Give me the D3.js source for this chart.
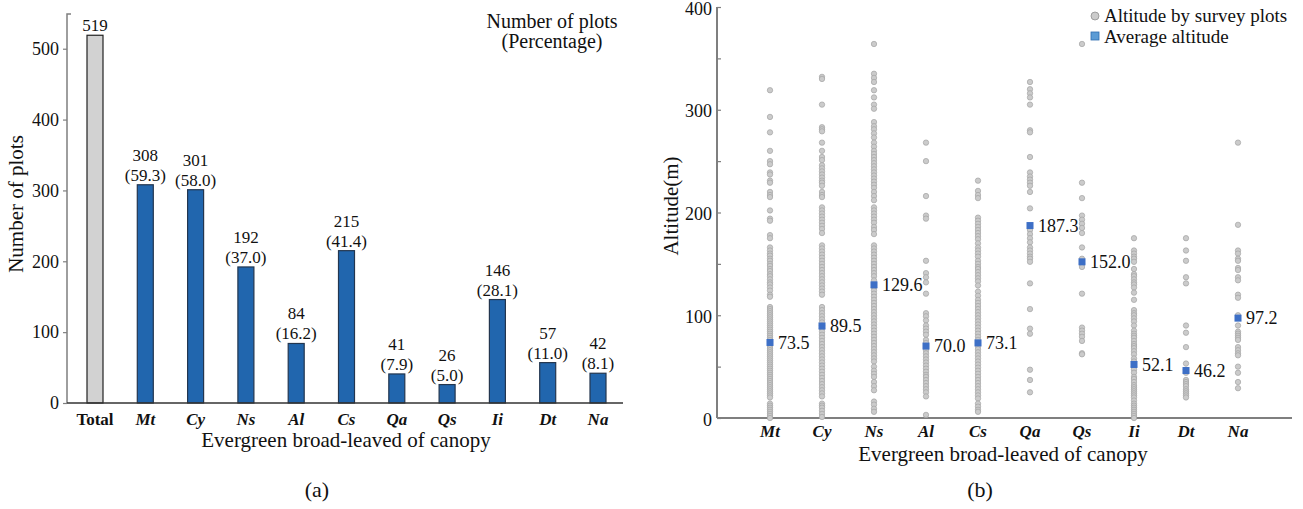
<!DOCTYPE html>
<html>
<head>
<meta charset="utf-8">
<script src="https://cdn.jsdelivr.net/npm/d3@7"></script>
<style>
  body { margin: 0; background: #fff; }
  text { font-family: "Liberation Serif", "Times New Roman", serif; fill: #111; }
</style>
</head>
<body>
<svg id="chart" width="1303" height="509"></svg>
<script>
// ---- data: panel (a) ----
const barCats = ["Total", "Mt", "Cy", "Ns", "Al", "Cs", "Qa", "Qs", "Ii", "Dt", "Na"];
const barCounts = [519, 308, 301, 192, 84, 215, 41, 26, 146, 57, 42];
const barPercents = [null, "59.3", "58.0", "37.0", "16.2", "41.4", "7.9", "5.0", "28.1", "11.0", "8.1"];
const barTicks = [0, 100, 200, 300, 400, 500];

// ---- data: panel (b) ----
const speciesCats = ["Mt", "Cy", "Ns", "Al", "Cs", "Qa", "Qs", "Ii", "Dt", "Na"];
const meanAltitude = [73.5, 89.5, 129.6, 70.0, 73.1, 187.3, 152.0, 52.1, 46.2, 97.2];
const altMt = [319, 293, 278, 260, 250, 247, 239, 237, 231, 229, 220, 217, 215, 202, 194, 192, 178, 175,
  166, 163, 160, 158, 155, 153, 150, 148, 145, 143, 140, 138, 135, 132, 130, 127, 124, 120, 118,
  108, 106, 104, 102, 100, 98, 96, 94, 92, 90, 88, 86, 84, 82, 80, 78, 76, 74, 72, 70, 68, 66, 64,
  62, 60, 58, 56, 54, 52, 50, 48, 46, 44, 42, 40, 38, 36, 34, 32, 30, 28, 26, 24, 22, 20,
  14, 12, 10, 8, 6, 4, 2, 0];
const altCy = [332, 330, 305, 283, 281, 279, 268, 260, 254, 251, 246, 243, 240, 237, 234, 231, 229, 226,
  220, 217, 215, 205, 202, 199, 196, 193, 190, 187, 184, 180, 168, 165, 162, 159, 156, 153, 150, 147,
  144, 141, 138, 135, 132, 129, 126, 123, 120, 108, 105, 102, 99, 96, 93, 90, 87, 84, 81, 78, 75, 72,
  69, 66, 63, 60, 57, 54, 51, 48, 45, 42, 39, 36, 33, 30, 27, 24, 21, 14, 12, 10, 7, 4, 1];
const altNs = [364, 335, 331, 327, 319, 312, 305, 301, 288, 284, 281, 277, 273, 268, 264, 260, 257, 254,
  251, 248, 245, 242, 239, 236, 233, 230, 227, 224, 220, 216, 212, 205, 202, 199, 196, 193, 190, 186,
  183, 179, 168, 165, 162, 159, 156, 153, 150, 147, 144, 141, 138, 134, 127, 124, 121, 118, 115, 112,
  109, 106, 103, 100, 97, 94, 91, 88, 85, 82, 79, 76, 73, 70, 67, 64, 61, 58, 55, 50, 46, 43, 40,
  35, 31, 27, 16, 13, 9, 6];
const altAl = [268, 250, 216, 197, 194, 153, 141, 137, 132, 121, 102, 99, 95, 90, 87, 84, 81, 76, 73, 66,
  63, 60, 57, 54, 51, 48, 45, 42, 40, 37, 34, 31, 28, 25, 21, 3];
const altCs = [231, 221, 217, 214, 195, 192, 189, 186, 183, 180, 177, 174, 170, 166, 163, 160, 157, 153,
  150, 147, 145, 142, 139, 136, 133, 129, 123, 119, 115, 112, 109, 106, 103, 100, 97, 94, 91, 88, 85,
  82, 79, 76, 73, 70, 67, 64, 61, 58, 55, 52, 49, 46, 43, 40, 37, 34, 31, 28, 25, 22, 19, 14, 11, 8, 6];
const altQa = [327, 320, 316, 312, 305, 280, 278, 254, 239, 235, 232, 229, 226, 220, 204, 183, 179, 175,
  171, 166, 163, 160, 157, 155, 152, 131, 106, 87, 82, 47, 37, 25];
const altQs = [364, 229, 214, 197, 193, 189, 185, 180, 166, 155, 150, 147, 121, 88, 85, 82, 79, 75, 63, 62];
const altIi = [175, 163, 160, 157, 155, 152, 145, 140, 138, 135, 132, 130, 127, 122, 115, 105, 102, 100,
  97, 94, 90, 85, 82, 80, 78, 75, 72, 70, 68, 65, 62, 58, 55, 50, 47, 44, 40, 38, 35, 32, 30, 28, 26,
  24, 22, 20, 17, 14, 12, 10, 8, 6, 4, 2, 0];
const altDt = [175, 163, 153, 137, 131, 90, 83, 69, 53, 47, 44, 37, 35, 33, 31, 28, 26, 24, 22, 20];
const altNa = [268, 188, 163, 160, 155, 153, 146, 144, 137, 134, 120, 117, 100, 90, 84, 82, 80, 78, 76,
  69, 66, 63, 61, 50, 44, 35, 29];
const altitudes = [altMt, altCy, altNs, altAl, altCs, altQa, altQs, altIi, altDt, altNa];
const altTicks = [0, 50, 100, 150, 200, 250, 300, 350, 400];

const svg = d3.select("#chart");
const serif = '"Liberation Serif", "Times New Roman", serif';

// ================= panel (a) =================
const xA = d3.scalePoint().domain(barCats).range([95, 598]);
const yA = d3.scaleLinear().domain([0, 549]).range([403, 14]);
const barW = 16;

const gA = svg.append("g");

gA.append("g")
    .attr("transform", "translate(67,0)")
    .call(d3.axisLeft(yA).tickValues(barTicks).tickSize(4).tickPadding(4).tickSizeOuter(0))
    .call(g => g.select(".domain").attr("stroke", "#7f7f7f").attr("stroke-width", 1.5)
        .attr("d", `M0,${yA(0)}V${yA(549)}H4`))
    .call(g => g.selectAll(".tick line").attr("stroke", "#7f7f7f").attr("stroke-width", 1.2))
    .call(g => g.selectAll(".tick text").style("font-family", serif).style("font-size", "18px").attr("fill", "#111"));

gA.selectAll("rect.bar")
    .data(barCats)
    .join("rect")
    .attr("class", "bar")
    .attr("x", d => xA(d) - barW / 2)
    .attr("y", (d, i) => yA(barCounts[i]))
    .attr("width", barW)
    .attr("height", (d, i) => yA(0) - yA(barCounts[i]))
    .attr("fill", (d, i) => i === 0 ? "#d2d2d2" : "#2166ae")
    .attr("stroke", (d, i) => i === 0 ? "#222" : "#23364f")
    .attr("stroke-width", 1.2);

// x axis line
gA.append("line")
    .attr("x1", 67).attr("x2", 623)
    .attr("y1", yA(0)).attr("y2", yA(0))
    .attr("stroke", "#333").attr("stroke-width", 1.5);

// value labels
gA.selectAll("text.cnt")
    .data(barCats)
    .join("text")
    .attr("class", "cnt")
    .attr("x", d => xA(d))
    .attr("y", (d, i) => yA(barCounts[i]) - (barPercents[i] ? 24 : 4))
    .attr("text-anchor", "middle")
    .style("font-size", "17px")
    .text((d, i) => barCounts[i]);

gA.selectAll("text.pct")
    .data(barCats.filter((d, i) => barPercents[i]))
    .join("text")
    .attr("class", "pct")
    .attr("x", d => xA(d))
    .attr("y", d => yA(barCounts[barCats.indexOf(d)]) - 4)
    .attr("text-anchor", "middle")
    .style("font-size", "17px")
    .text(d => `(${barPercents[barCats.indexOf(d)]})`);

// category labels
gA.selectAll("text.cat")
    .data(barCats)
    .join("text")
    .attr("class", "cat")
    .attr("x", d => xA(d))
    .attr("y", 425)
    .attr("text-anchor", "middle")
    .style("font-size", "17px")
    .style("font-weight", "bold")
    .style("font-style", d => d === "Total" ? "normal" : "italic")
    .text(d => d);

gA.append("text")
    .attr("x", 346).attr("y", 447)
    .attr("text-anchor", "middle")
    .style("font-size", "21px")
    .text("Evergreen broad-leaved of canopy");

gA.append("text")
    .attr("transform", "translate(23,204) rotate(-90)")
    .attr("text-anchor", "middle")
    .style("font-size", "21px")
    .text("Number of plots");

gA.append("text")
    .attr("x", 552).attr("y", 28)
    .attr("text-anchor", "middle")
    .style("font-size", "20px")
    .text("Number of plots");
gA.append("text")
    .attr("x", 552).attr("y", 48)
    .attr("text-anchor", "middle")
    .style("font-size", "20px")
    .text("(Percentage)");

gA.append("text")
    .attr("x", 317).attr("y", 497)
    .attr("text-anchor", "middle")
    .style("font-size", "22px")
    .text("(a)");

// ================= panel (b) =================
const xB = d3.scalePoint().domain(speciesCats).range([770, 1238]);
const yB = d3.scaleLinear().domain([0, 400]).range([418, 7]);

const gB = svg.append("g");

gB.append("g")
    .attr("transform", "translate(717,0)")
    .call(d3.axisLeft(yB).tickValues(altTicks).tickSize(-4).tickPadding(5).tickSizeOuter(0)
        .tickFormat(d => d % 100 === 0 ? d : ""))
    .call(g => g.select(".domain").attr("stroke", "#7f7f7f").attr("stroke-width", 2)
        .attr("d", `M0,${yB(0)}V${yB(400)}`))
    .call(g => g.selectAll(".tick line").attr("stroke", "#7f7f7f").attr("stroke-width", 1.2))
    .call(g => g.selectAll(".tick text").style("font-family", serif).style("font-size", "18px")
        .attr("fill", "#111").attr("dy", "0.4em"));

gB.append("line")
    .attr("x1", 717).attr("x2", 1292)
    .attr("y1", yB(0)).attr("y2", yB(0))
    .attr("stroke", "#7f7f7f").attr("stroke-width", 2);

// survey points
const pts = speciesCats.flatMap((s, i) => altitudes[i].map(v => ({ s, v })));
gB.selectAll("circle.pt")
    .data(pts)
    .join("circle")
    .attr("class", "pt")
    .attr("cx", d => xB(d.s))
    .attr("cy", d => yB(d.v))
    .attr("r", 2.7)
    .attr("fill", "#cbcbcb")
    .attr("stroke", "#a4a4a4")
    .attr("stroke-width", 0.7);

// mean markers
gB.selectAll("rect.mean")
    .data(speciesCats)
    .join("rect")
    .attr("class", "mean")
    .attr("x", d => xB(d) - 3.5)
    .attr("y", (d, i) => yB(meanAltitude[i]) - 3.5)
    .attr("width", 7).attr("height", 7)
    .attr("fill", "#3d6fc6");

gB.selectAll("text.mean")
    .data(speciesCats)
    .join("text")
    .attr("class", "mean")
    .attr("x", d => xB(d) + 8)
    .attr("y", (d, i) => yB(meanAltitude[i]))
    .attr("dy", "0.35em")
    .style("font-size", "18px")
    .text((d, i) => meanAltitude[i].toFixed(1));

gB.selectAll("text.cat")
    .data(speciesCats)
    .join("text")
    .attr("class", "cat")
    .attr("x", d => xB(d))
    .attr("y", 437)
    .attr("text-anchor", "middle")
    .style("font-size", "17px")
    .style("font-weight", "bold")
    .style("font-style", "italic")
    .text(d => d);

gB.append("text")
    .attr("x", 1003).attr("y", 461)
    .attr("text-anchor", "middle")
    .style("font-size", "21px")
    .text("Evergreen broad-leaved of canopy");

gB.append("text")
    .attr("transform", "translate(678,206) rotate(-90)")
    .attr("text-anchor", "middle")
    .style("font-size", "21px")
    .text("Altitude(m)");

gB.append("text")
    .attr("x", 980).attr("y", 497)
    .attr("text-anchor", "middle")
    .style("font-size", "22px")
    .text("(b)");

// legend
const leg = gB.append("g").attr("transform", "translate(1095,0)");
leg.append("circle").attr("cx", 0).attr("cy", 16).attr("r", 4)
    .attr("fill", "#cbcbcb").attr("stroke", "#8f8f8f").attr("stroke-width", 0.8);
leg.append("text").attr("x", 9).attr("y", 22).style("font-size", "19px").text("Altitude by survey plots");
leg.append("rect").attr("x", -4).attr("y", 32).attr("width", 8).attr("height", 8)
    .attr("fill", "#5b9bd5").attr("stroke", "#2e6cb0").attr("stroke-width", 0.8);
leg.append("text").attr("x", 9).attr("y", 43).style("font-size", "19px").text("Average altitude");
</script>
</body>
</html>
